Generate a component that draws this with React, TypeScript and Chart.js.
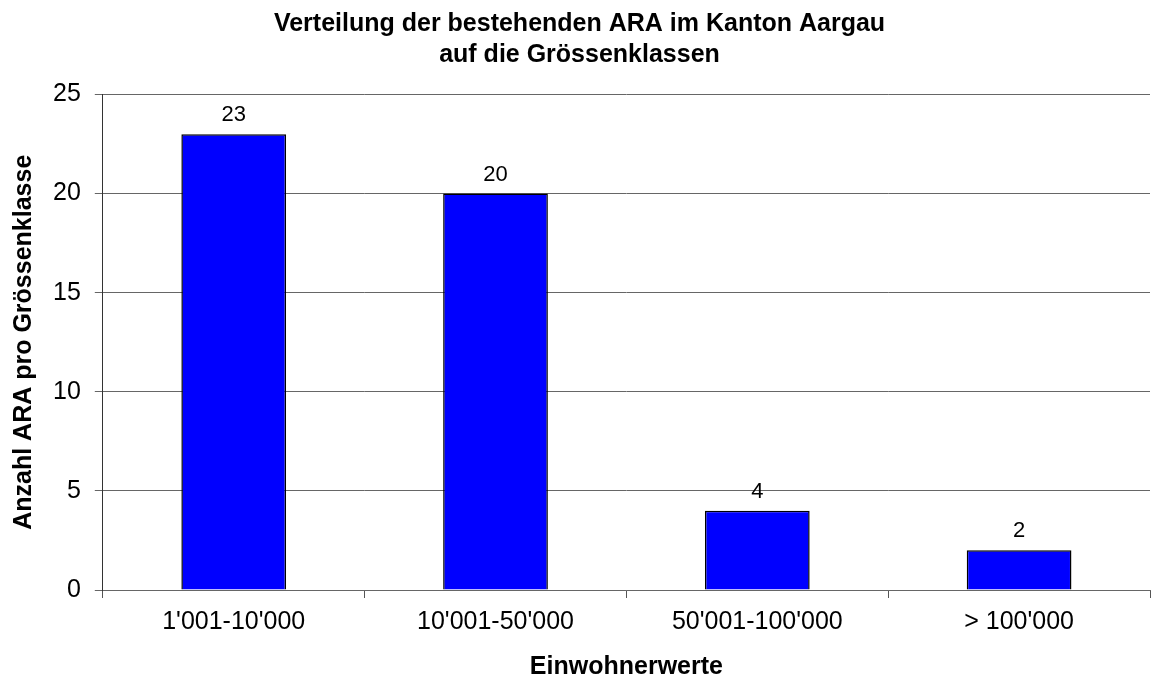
import React, { useEffect, useRef } from "react";
import { Chart, registerables } from "chart.js";

Chart.register(...registerables);

const categories = ["1'001-10'000", "10'001-50'000", "50'001-100'000", "> 100'000"];
const counts = [23, 20, 4, 2];
const titleLines = ["Verteilung der bestehenden ARA im Kanton Aargau", "auf die Grössenklassen"];
const yTitle = "Anzahl ARA pro Grössenklasse";
const xTitle = "Einwohnerwerte";

const FONT = "'Liberation Sans', Arial, sans-serif";

const valueLabels = {
  id: "valueLabels",
  afterDatasetsDraw(chart: any) {
    const ctx = chart.ctx;
    const meta = chart.getDatasetMeta(0);
    ctx.save();
    ctx.font = `22px ${FONT}`;
    ctx.fillStyle = "#000";
    ctx.textAlign = "center";
    ctx.textBaseline = "alphabetic";
    meta.data.forEach((el: any, i: number) => {
      ctx.fillText(String(counts[i]), el.x, el.y - 13);
    });
    ctx.restore();
  },
};

export default function App() {
  const ref = useRef<HTMLCanvasElement>(null);
  useEffect(() => {
    const chart = new Chart(ref.current!, {
      type: "bar",
      data: {
        labels: categories,
        datasets: [
          {
            data: counts,
            backgroundColor: "#0000FF",
            borderColor: "#000000",
            borderWidth: 1.5,
            barPercentage: 0.4,
            categoryPercentage: 1,
          },
        ],
      },
      options: {
        responsive: false,
        animation: false,
        layout: { padding: { top: 8, right: 2, left: 9, bottom: 0 } },
        plugins: {
          legend: { display: false },
          tooltip: { enabled: false },
          title: {
            display: true,
            text: titleLines,
            color: "#000",
            font: { family: FONT, size: 25, weight: "bold", lineHeight: 1.25 },
            padding: { top: 0, bottom: 24 },
          },
        },
        scales: {
          x: {
            grid: { display: true, drawOnChartArea: false, drawTicks: true, tickLength: 8, color: "#555", offset: true },
            border: { display: true, color: "#666" },
            ticks: { color: "#000", font: { family: FONT, size: 25 }, padding: 9 },
            title: {
              display: true,
              text: xTitle,
              color: "#000",
              font: { family: FONT, size: 25, weight: "bold" },
              padding: { top: 6, bottom: 0 },
            },
          },
          y: {
            min: 0,
            max: 25,
            ticks: { stepSize: 5, color: "#000", font: { family: FONT, size: 25 }, padding: 14 },
            grid: { color: "#666", tickLength: 8, lineWidth: 1 },
            border: { display: true, color: "#333" },
            title: {
              display: true,
              text: yTitle,
              color: "#000",
              font: { family: FONT, size: 25, weight: "bold" },
              padding: { top: 0, bottom: 0 },
            },
          },
        },
      },
      plugins: [valueLabels],
    });
    return () => chart.destroy();
  }, []);
  return (
    <div style={{ position: "fixed", left: 0, top: 0, width: 1152, height: 682, background: "#fff" }}>
      <canvas ref={ref} width={1152} height={682} />
    </div>
  );
}
